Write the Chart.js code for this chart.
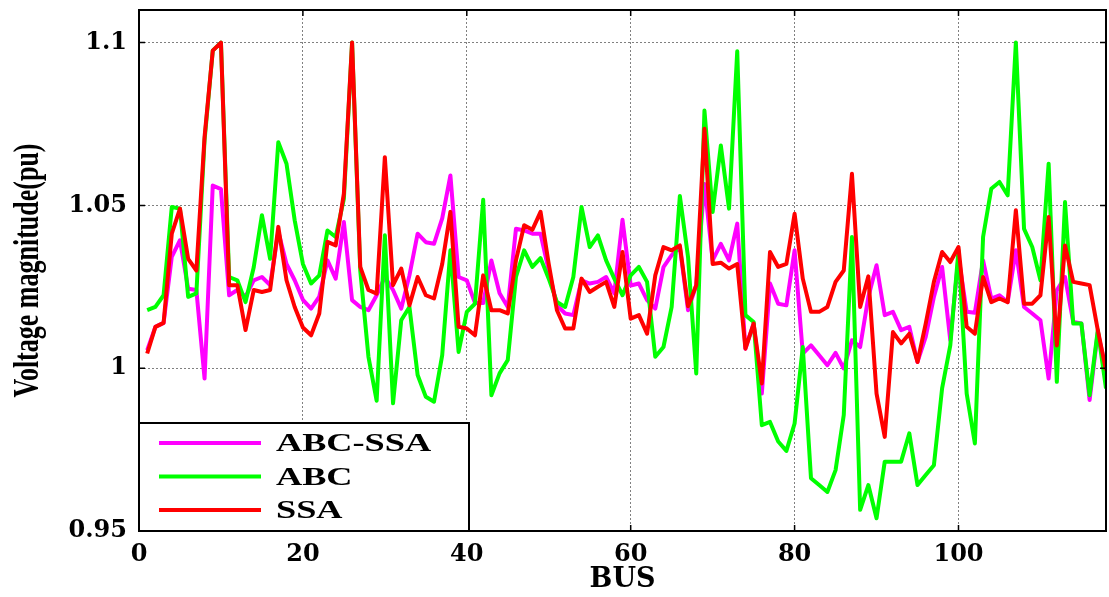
<!DOCTYPE html>
<html>
<head>
  <title>Voltage magnitude per bus</title>
  <script src="https://cdn.jsdelivr.net/npm/chart.js"></script>
  <style>
    html, body { margin: 0; padding: 0; background: #fff; }
  </style>
</head>
<body>
  <canvas id="voltageChart" width="1109" height="597"></canvas>

  <script>
    // bus numbers 1..118 (IEEE 118-bus system)
    const buses = Array.from({ length: 118 }, (_, i) => i + 1);

    const abcSsa = [
      1.0055, 1.0127, 1.0139, 1.0342, 1.0393, 1.0244, 1.024, 0.9968, 1.0561, 1.055,
      1.0224, 1.024, 1.022, 1.027, 1.028, 1.0255, 1.042, 1.032, 1.027, 1.021,
      1.0183, 1.022, 1.0331, 1.0275, 1.0449, 1.0209, 1.0188, 1.0178, 1.0224, 1.028,
      1.024, 1.0183, 1.0285, 1.0413, 1.0387, 1.0382, 1.046, 1.0592, 1.028, 1.027,
      1.020, 1.020, 1.0331, 1.023, 1.0188, 1.0428, 1.0423, 1.0413, 1.0413, 1.030,
      1.0193, 1.0168, 1.0163, 1.027, 1.026, 1.0265, 1.028, 1.023, 1.0456, 1.0254,
      1.026, 1.0209, 1.0183, 1.031, 1.0347, 1.0372, 1.0178, 1.0255, 1.0566, 1.0331,
      1.0382, 1.0331, 1.0444, 1.006, 1.0137, 0.9922, 1.026, 1.0198, 1.0193, 1.0362,
      1.0045, 1.007, 1.004, 1.0009, 1.0047, 0.9999, 1.0086, 1.0065, 1.0219, 1.0316,
      1.0163, 1.0173, 1.0117, 1.0127, 1.0019, 1.0096, 1.0219, 1.0311, 1.0086, 1.0342,
      1.0173, 1.017, 1.0331, 1.0214, 1.0224, 1.0203, 1.0362, 1.0188, 1.0168, 1.0147,
      0.9968, 1.0239, 1.028, 1.0142, 1.0137, 0.9902, 1.0111, 0.9994
    ];

    const abc = [
      1.0178, 1.0188, 1.0224, 1.0495, 1.049, 1.0219, 1.023, 1.070, 1.0975, 1.100,
      1.028, 1.027, 1.0203, 1.031, 1.047, 1.0336, 1.0694, 1.0628, 1.0454, 1.032,
      1.026, 1.0285, 1.0423, 1.0403, 1.052, 1.100, 1.030, 1.0035, 0.990, 1.0408,
      0.9892, 1.0147, 1.0188, 0.9979, 0.9912, 0.9897, 1.004, 1.0362, 1.005, 1.0173,
      1.0198, 1.0517, 0.9917, 0.9984, 1.0025, 1.028, 1.0362, 1.0311, 1.0338, 1.0275,
      1.0203, 1.0188, 1.028, 1.0495, 1.0372, 1.0408, 1.0331, 1.0275, 1.0224, 1.0285,
      1.0311, 1.0265, 1.0035, 1.0065, 1.0188, 1.0529, 1.0341, 0.9984, 1.0791, 1.048,
      1.0684, 1.049, 1.0973, 1.0163, 1.0142, 0.9825, 0.9835, 0.9775, 0.9746, 0.983,
      1.0065, 0.9662, 0.9641, 0.962, 0.9687, 0.9856, 1.0403, 0.9565, 0.9641, 0.9539,
      0.9713, 0.9713, 0.9713, 0.98, 0.9641, 0.9672, 0.9702, 0.9938, 1.007, 1.0362,
      0.9922, 0.9769, 1.0403, 1.0551, 1.0572, 1.0531, 1.1, 1.0428, 1.0372, 1.027,
      1.0628, 0.9958, 1.051, 1.0137, 1.0137, 0.9917, 1.0117, 0.9938
    ];

    const ssa = [
      1.0045, 1.0127, 1.0139, 1.0413, 1.049, 1.0336, 1.030, 1.071, 1.0975, 1.100,
      1.0255, 1.0255, 1.0117, 1.024, 1.0234, 1.024, 1.0434, 1.027, 1.0188, 1.0125,
      1.0101, 1.0168, 1.0388, 1.0377, 1.0536, 1.100, 1.0311, 1.024, 1.0229, 1.0648,
      1.0255, 1.0306, 1.0193, 1.028, 1.0224, 1.0214, 1.032, 1.048, 1.0127, 1.0122,
      1.0101, 1.0285, 1.0178, 1.0178, 1.0168, 1.0331, 1.0439, 1.0425, 1.048, 1.032,
      1.0178, 1.0122, 1.0122, 1.0275, 1.0234, 1.025, 1.0265, 1.0188, 1.0357, 1.0152,
      1.0163, 1.0106, 1.0285, 1.0372, 1.0362, 1.0377, 1.019, 1.0255, 1.0735, 1.032,
      1.0324, 1.0306, 1.032, 1.006, 1.0137, 0.9953, 1.0357, 1.0311, 1.032, 1.0474,
      1.0275, 1.0173, 1.0173, 1.0188, 1.0265, 1.030, 1.0597, 1.0188, 1.0282, 0.9922,
      0.9789, 1.0111, 1.0076, 1.0106, 1.0019, 1.0137, 1.0265, 1.0357, 1.0326, 1.0372,
      1.0127, 1.0106, 1.028, 1.0203, 1.0214, 1.0203, 1.0485, 1.0198, 1.0198, 1.0224,
      1.0464, 1.007, 1.0377, 1.0265, 1.026, 1.0255, 1.0117, 0.9994
    ];

    const seriesNames = ['ABC-SSA', 'ABC', 'SSA'];
    const seriesColors = ['#ff00ff', '#00ff00', '#ff0000'];
    const xTicks = [0, 20, 40, 60, 80, 100];
    const yTicks = [0.95, 1, 1.05, 1.1];
    const yTitle = 'Voltage magnitude(pu)';

    const toPoints = arr => arr.map((v, i) => ({ x: buses[i], y: v }));

    // the original figure is stretched sideways, so the text is drawn wide
    const framePlugin = {
      id: 'frame',
      afterDraw(chart) {
        const { ctx, chartArea: a, scales } = chart;
        ctx.save();

        // top and right sides of the box
        ctx.strokeStyle = '#000';
        ctx.lineWidth = 2;
        ctx.beginPath();
        ctx.moveTo(a.left, a.top);
        ctx.lineTo(a.right, a.top);
        ctx.lineTo(a.right, a.bottom);
        ctx.stroke();

        // inward tick marks
        ctx.lineWidth = 1.5;
        ctx.beginPath();
        xTicks.forEach(v => {
          const px = scales.x.getPixelForValue(v);
          ctx.moveTo(px, a.top); ctx.lineTo(px, a.top + 6);
          ctx.moveTo(px, a.bottom); ctx.lineTo(px, a.bottom - 6);
        });
        yTicks.forEach(v => {
          const py = scales.y.getPixelForValue(v);
          ctx.moveTo(a.left, py); ctx.lineTo(a.left + 6, py);
          ctx.moveTo(a.right, py); ctx.lineTo(a.right - 6, py);
        });
        ctx.stroke();

        // y axis title
        ctx.save();
        ctx.translate(29, (a.top + a.bottom) / 2);
        ctx.rotate(-Math.PI / 2);
        ctx.scale(1, 1.4);
        ctx.fillStyle = '#000';
        ctx.font = 'bold 26px "Liberation Serif", serif';
        ctx.textAlign = 'center';
        ctx.textBaseline = 'middle';
        ctx.fillText(yTitle, 0, 0);
        ctx.restore();

        // legend
        const bx = a.left, by = a.bottom - 108, bw = 330, bh = 108;
        ctx.fillStyle = '#fff';
        ctx.fillRect(bx, by, bw, bh);
        ctx.strokeStyle = '#000';
        ctx.lineWidth = 2;
        ctx.strokeRect(bx, by, bw, bh);

        chart.data.datasets.forEach((ds, i) => {
          const rowY = by + 20 + i * 33.5;
          ctx.strokeStyle = ds.borderColor;
          ctx.lineWidth = 4;
          ctx.beginPath();
          ctx.moveTo(bx + 20, rowY);
          ctx.lineTo(bx + 122, rowY);
          ctx.stroke();

          ctx.save();
          ctx.translate(bx + 137, rowY + 2);
          ctx.scale(1.45, 1);
          ctx.fillStyle = '#000';
          ctx.font = 'bold 25px "Liberation Serif", serif';
          ctx.textBaseline = 'middle';
          ctx.fillText(ds.label, 0, 0);
          ctx.restore();
        });

        ctx.restore();
      }
    };

    const dropPadding = axis => {
      axis.paddingTop = 0;
      axis.paddingBottom = 0;
      axis.paddingLeft = 0;
      axis.paddingRight = 0;
    };

    const ctx = document.getElementById('voltageChart').getContext('2d');
    new Chart(ctx, {
      type: 'line',
      data: {
        datasets: [
          { label: seriesNames[0], data: toPoints(abcSsa), borderColor: seriesColors[0], order: 3 },
          { label: seriesNames[1], data: toPoints(abc), borderColor: seriesColors[1], order: 2 },
          { label: seriesNames[2], data: toPoints(ssa), borderColor: seriesColors[2], order: 1 }
        ]
      },
      options: {
        responsive: false,
        animation: false,
        layout: { padding: { top: 10, right: 3, left: 0, bottom: 0 } },
        elements: {
          line: { borderWidth: 4, tension: 0, fill: false, borderJoinStyle: 'round' },
          point: { radius: 0 }
        },
        plugins: {
          legend: { display: false },
          tooltip: { enabled: false }
        },
        scales: {
          x: {
            type: 'linear',
            min: 0,
            max: 118,
            afterBuildTicks: axis => { axis.ticks = xTicks.map(v => ({ value: v })); },
            afterFit: axis => { axis.height = 66; dropPadding(axis); },
            grid: { color: '#808080', lineWidth: 1, drawTicks: false },
            border: { display: true, color: '#000', width: 2, dash: [2, 2] },
            ticks: {
              padding: 9,
              color: '#000',
              font: { family: '"DejaVu Serif", serif', weight: 'bold', size: 24 }
            },
            title: {
              display: true,
              text: 'BUS',
              color: '#000',
              font: { family: '"DejaVu Serif", serif', weight: 'bold', size: 27 },
              padding: { top: 0, bottom: 1 }
            }
          },
          y: {
            min: 0.95,
            max: 1.11,
            afterBuildTicks: axis => { axis.ticks = yTicks.map(v => ({ value: v })); },
            afterFit: axis => { axis.width = 139; dropPadding(axis); },
            grid: { color: '#808080', lineWidth: 1, drawTicks: false },
            border: { display: true, color: '#000', width: 2, dash: [2, 2] },
            ticks: {
              padding: 12,
              color: '#000',
              font: { family: '"DejaVu Serif", serif', weight: 'bold', size: 24 },
              callback: v => String(Number(v.toFixed(2)))
            }
          }
        }
      },
      plugins: [framePlugin]
    });
  </script>
</body>
</html>
